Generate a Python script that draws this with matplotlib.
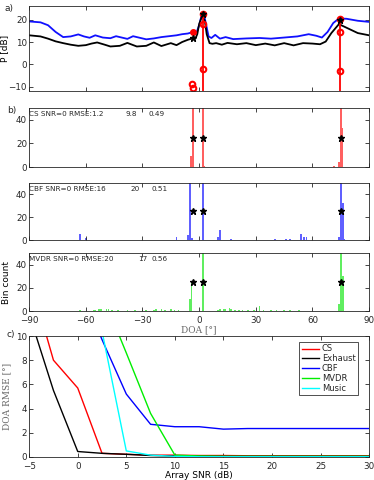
import matplotlib
matplotlib.use('Agg')
import matplotlib.pyplot as plt

plt.rcParams['font.family'] = 'DejaVu Sans'
plt.rcParams['font.size'] = 6
plt.rcParams['text.color'] = '#262626'
plt.rcParams['axes.edgecolor'] = '#262626'
plt.rcParams['xtick.color'] = '#262626'
plt.rcParams['ytick.color'] = '#262626'

# ---- panel a: spatial spectra ----
cbf_doa = [-90, -84, -80, -76, -72, -68, -64, -61, -58, -55, -51, -47, -44, -41, -38, -35, -31, -28,
           -24, -20, -16, -12, -9, -6, -4, -3, -1.5, 0, 1, 2, 3, 4, 5, 6.5, 8.5, 11, 14, 18, 25, 32,
           38, 45, 52, 58, 62, 65, 68, 71, 74, 78, 84, 90]
cbf_p = [19.2, 18.8, 17.5, 14.5, 12.2, 12.5, 13.4, 12.5, 11.9, 13.0, 12.0, 11.7, 12.6, 12.0, 11.4, 12.6,
         11.8, 11.2, 11.6, 12.2, 12.6, 13.0, 13.5, 13.8, 14.3, 14.6, 14.0, 17.5, 21.0, 22.5, 20.5, 16.5,
         12.5, 11.8, 13.2, 11.5, 12.2, 11.3, 11.6, 11.8, 11.5, 12.0, 12.5, 13.5, 12.8, 12.0, 14.5, 18.5,
         20.5, 20.4, 19.5, 19.0]
exh_doa = [-90, -84, -80, -76, -72, -68, -64, -60, -57, -54, -50, -47, -42, -38, -33, -28, -24, -20,
           -15, -12, -9, -6, -4, -3, -2, -1, 0, 1.5, 3, 4, 5.5, 7, 9, 12, 15, 20, 25, 30, 35, 40, 45,
           50, 55, 60, 64, 67, 70, 74, 79, 84, 90]
exh_p = [13.0, 12.5, 11.5, 10.3, 9.5, 8.8, 8.3, 8.6, 9.3, 9.8, 8.8, 8.0, 8.3, 9.6, 8.0, 8.3, 9.8, 8.2,
         9.5, 8.6, 10.0, 11.0, 11.5, 11.8, 11.5, 13.5, 18.0, 21.5, 19.5, 13.5, 9.5, 9.2, 9.5, 8.8,
         9.6, 9.0, 9.5, 8.6, 9.3, 8.5, 9.5, 8.5, 9.5, 9.3, 9.0, 10.2, 14.0, 18.0, 16.0, 14.0, 13.0]
# CS estimates (stems) and extra markers
cs_stem_doa = [1.8, 74.6]
cs_stem_top = [22.5, 20.5]
cs_mark_doa = [1.8, 1.8, 1.8, 74.6, 74.6, 74.6, -3.6, -3.0]
cs_mark_p = [22.5, 18.0, -2.0, 20.5, 14.5, -3.0, -9.0, -10.5]
cs_top_doa = [-3.2]
cs_top_p = [14.6]
true_doa = [-3.0, 1.8, 74.6]
true_p = [12.0, 22.5, 20.0]

# ---- panel b: histograms ----
hist_true = [-3, 2, 75]
cs_x = [-4.2, -3.3, 2.0, 2.8, 71.5, 74.0, 75.0, 75.8]
cs_n = [9, 60, 60, 1, 1, 4, 60, 33]
cbf_x = [-63, -60, -12, -5.8, -4.8, -3.8, 1.9, 10, 11, 17, 40, 46, 48, 54, 55.5, 56.8, 74, 75, 76, 77]
cbf_n = [5, 2, 3, 4, 60, 2, 60, 3, 9, 1, 1, 1, 1, 5, 3, 3, 3, 60, 32, 1]
mvdr_x = [-63, -56, -55, -53, -52, -49, -48, -46, -43, -38, -34, -30, -28, -24, -23, -20, -18, -15,
          -13, -11, -5, -4, 2, 10, 11, 13, 14, 16, 17, 19, 21, 23, 26, 29, 32, 34, 38, 41, 45, 48, 53,
          74, 75, 76]
mvdr_n = [1, 1, 1, 2, 2, 2, 2, 1, 1, 1, 1, 1, 1, 1, 2, 2, 1, 2, 1, 1, 10, 25, 60, 1, 2, 2, 2, 3, 2, 1,
          1, 1, 1, 1, 4, 1, 1, 1, 1, 1, 1, 6, 60, 30]
hist_names = ['CS SNR=0 RMSE:1.2', 'CBF SNR=0 RMSE:16', 'MVDR SNR=0 RMSE:20']
hist_v2 = ['9.8', '20', '17']
hist_v2_x = [-39, -36.5, -32.5]
hist_v3 = ['0.49', '0.51', '0.56']
hist_v3_x = [-26.8, -25.3, -25.3]

# ---- panel c: RMSE vs SNR ----
snr = [-5, -2.5, 0, 2.5, 5, 7.5, 10, 12.5, 15, 17.5, 20, 22.5, 25, 27.5, 30]
rmse_cs = [15, 8, 5.7, 0.3, 0.22, 0.15, 0.15, 0.12, 0.12, 0.1, 0.1, 0.1, 0.1, 0.1, 0.1]
rmse_exh = [11.8, 5.5, 0.45, 0.3, 0.22, 0.12, 0.08, 0.06, 0.05, 0.05, 0.05, 0.05, 0.05, 0.05, 0.05]
rmse_cbf = [25, 19, 14.5, 9.7, 5.2, 2.7, 2.5, 2.5, 2.3, 2.35, 2.35, 2.35, 2.35, 2.35, 2.35]
rmse_mvdr = [25, 20, 18.5, 13.5, 8.6, 3.6, 0.15, 0.08, 0.05, 0.05, 0.05, 0.05, 0.05, 0.05, 0.05]
rmse_music = [30, 22, 18, 10.4, 0.5, 0.15, 0.05, 0.02, 0.02, 0.02, 0.02, 0.02, 0.02, 0.02, 0.02]

fig = plt.figure(figsize=(3.74, 4.8), dpi=100)
L, R = 0.078, 0.987


def style(ax):
    ax.tick_params(direction='in', top=True, right=True, length=3, width=0.6, pad=1.5, labelsize=6.3)
    ax.tick_params(axis='x', pad=3.5)
    for s in ax.spines.values():
        s.set_linewidth(0.6)


# panel a
axa = fig.add_axes([L, 0.810, R - L, 0.177])
axa.plot(cbf_doa, cbf_p, color='#1010ff', lw=1.3)
axa.plot(exh_doa, exh_p, color='black', lw=1.3)
axa.vlines(cs_stem_doa, -12, cs_stem_top, color='red', lw=1.3)
axa.plot(cs_mark_doa, cs_mark_p, 'o', color='red', mfc='none', mew=1.5, ms=4)
axa.plot(cs_top_doa, cs_top_p, 'o', color='red', ms=4)
axa.plot(true_doa, true_p, '*', color='black', ms=5, mew=1.0)
axa.set_xlim(-90, 90)
axa.set_ylim(-12, 26)
axa.set_xticks([-90, -60, -30, 0, 30, 60, 90])
axa.set_xticklabels([])
axa.set_yticks([-10, 0, 10, 20])
axa.set_ylabel('P [dB]', fontsize=6.5)
axa.yaxis.set_label_coords(-0.058, 0.5)
style(axa)
fig.text(0.012, 0.978, 'a)', fontsize=6.5)

# panel b histograms
hist_axes = []
boxes = [(0.652, 0.123), (0.500, 0.119), (0.352, 0.121)]
data = [(cs_x, cs_n, '#ff6060'), (cbf_x, cbf_n, '#6060ff'), (mvdr_x, mvdr_n, '#60ee60')]
for i, ((b, h), (hx, hn, col)) in enumerate(zip(boxes, data)):
    ax = fig.add_axes([L, b, R - L, h])
    ax.bar(hx, hn, width=0.9, color=col, linewidth=0)
    ax.plot(hist_true, [25, 25, 25], '*', color='black', ms=5, mew=1.0)
    ax.set_xlim(-90, 90)
    ax.set_ylim(0, 50)
    ax.set_yticks([0, 20, 40])
    ax.set_xticks([-90, -60, -30, 0, 30, 60, 90])
    ax.text(-90, 45, hist_names[i], fontsize=5.2, va='center', ha='left')
    ax.text(hist_v2_x[i], 45, hist_v2[i], fontsize=5.2, va='center', ha='left')
    ax.text(hist_v3_x[i], 45, hist_v3[i], fontsize=5.2, va='center', ha='left')
    style(ax)
    hist_axes.append(ax)
hist_axes[0].set_xticklabels([])
hist_axes[1].set_xticklabels([])
hist_axes[2].set_ylabel('Bin count', fontsize=6.5)
hist_axes[2].yaxis.set_label_coords(-0.052, 0.5)
hist_axes[2].set_xlabel('DOA [°]', family='DejaVu Serif', color='#666666', fontsize=6.5, labelpad=0)
fig.text(0.018, 0.765, 'b)', fontsize=6.5)

# panel c
axc = fig.add_axes([L, 0.048, R - L, 0.252])
axc.plot(snr, rmse_cs, color='red', lw=1.0, label='CS')
axc.plot(snr, rmse_exh, color='black', lw=1.0, label='Exhaust')
axc.plot(snr, rmse_cbf, color='#0000ff', lw=1.0, label='CBF')
axc.plot(snr, rmse_mvdr, color='#00ee00', lw=1.0, label='MVDR')
axc.plot(snr, rmse_music, color='cyan', lw=1.0, label='Music')
axc.set_xlim(-5, 30)
axc.set_ylim(0, 10)
axc.set_xticks([-5, 0, 5, 10, 15, 20, 25, 30])
axc.set_yticks([0, 2, 4, 6, 8, 10])
axc.set_xlabel('Array SNR (dB)', fontsize=6.5, labelpad=0)
axc.set_ylabel('DOA RMSE [°]', family='DejaVu Serif', color='#666666', fontsize=6.5)
axc.yaxis.set_label_coords(-0.052, 0.5)
leg = axc.legend(loc='upper right', fontsize=6, frameon=True, fancybox=False, handlelength=2.0,
                 borderpad=0.3, labelspacing=0.1, handletextpad=0.4, bbox_to_anchor=(0.98, 0.985))
leg.get_frame().set_edgecolor('black')
leg.get_frame().set_linewidth(0.6)
style(axc)
fig.text(0.018, 0.298, 'c)', fontsize=6.5)

fig.savefig('out.png', dpi=100)
